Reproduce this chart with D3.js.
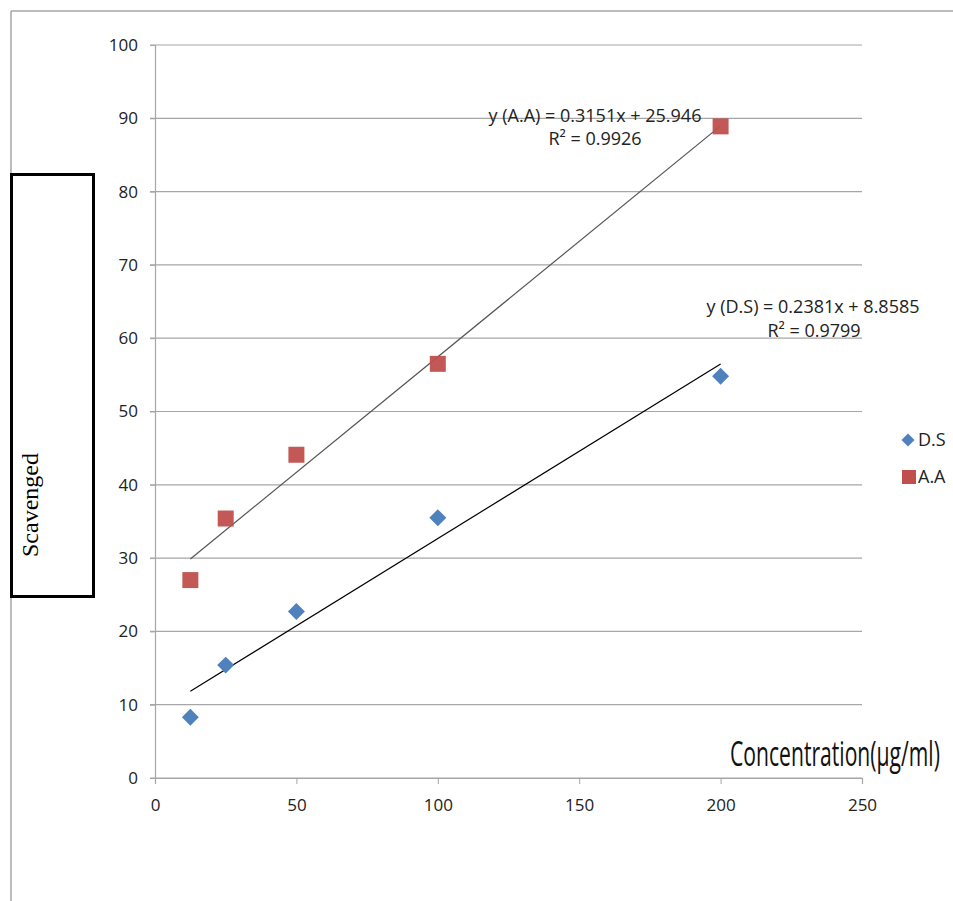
<!DOCTYPE html>
<html><head><meta charset="utf-8">
<script src="https://cdn.jsdelivr.net/npm/d3@7"></script>
<style>body{margin:0;background:#fff}svg{display:block}</style>
</head><body>
<script>
const concentrations = [12.5, 25, 50, 100, 200];
const dsValues = [8.3, 15.4, 22.7, 35.5, 54.8];
const aaValues = [27.0, 35.4, 44.1, 56.5, 88.9];
const seriesNames = ["D.S", "A.A"];
const xTicks = [0, 50, 100, 150, 200, 250];
const yTicks = [0, 10, 20, 30, 40, 50, 60, 70, 80, 90, 100];
const dsFit = {slope: 0.2381, intercept: 8.8585, r2: "0.9799", label: "y (D.S) = 0.2381x + 8.8585"};
const aaFit = {slope: 0.3151, intercept: 25.946, r2: "0.9926", label: "y (A.A) = 0.3151x + 25.946"};

const W = 953, H = 901;
const svg = d3.select("body").append("svg").attr("width", W).attr("height", H);
const font = "'Open Sans', 'Noto Sans', sans-serif";

// outer frame
svg.append("line").attr("x1", 11).attr("x2", W).attr("y1", 11).attr("y2", 11).attr("stroke", "#a6a6a6").attr("stroke-width", 1.5);
svg.append("line").attr("x1", 11).attr("x2", 11).attr("y1", 11).attr("y2", H).attr("stroke", "#a6a6a6").attr("stroke-width", 1.5);

const x = d3.scaleLinear().domain([0, 250]).range([155, 862]);
const y = d3.scaleLinear().domain([0, 100]).range([778, 45]);

// gridlines
svg.append("g").selectAll("line").data(yTicks).join("line")
  .attr("x1", 150).attr("x2", 862).attr("y1", d => y(d)).attr("y2", d => y(d))
  .attr("stroke", "#a6a6a6").attr("stroke-width", 1.2);

// y axis
const yAxis = svg.append("g").attr("transform", `translate(${x(0)},0)`)
  .call(d3.axisLeft(y).tickValues(yTicks).tickSize(5).tickPadding(12));
yAxis.select(".domain").attr("stroke", "#a6a6a6").attr("stroke-width", 1.2);
yAxis.selectAll(".tick line").attr("stroke", "#a6a6a6");
yAxis.selectAll("text").attr("font-family", font).attr("font-size", 17).attr("fill", "#222");

// x axis
const xAxis = svg.append("g").attr("transform", `translate(0,${y(0)})`)
  .call(d3.axisBottom(x).tickValues(xTicks).tickSize(6).tickPadding(15));
xAxis.select(".domain").attr("stroke", "#a6a6a6").attr("stroke-width", 1.2);
xAxis.selectAll(".tick line").attr("stroke", "#a6a6a6");
xAxis.selectAll("text").attr("font-family", font).attr("font-size", 17).attr("fill", "#222");

// trendlines
const xmin = d3.min(concentrations), xmax = d3.max(concentrations);
[[aaFit, "#555"], [dsFit, "#000"]].forEach(([f, c]) => {
  svg.append("line")
    .attr("x1", x(xmin)).attr("y1", y(f.slope * xmin + f.intercept))
    .attr("x2", x(xmax)).attr("y2", y(f.slope * xmax + f.intercept))
    .attr("stroke", c).attr("stroke-width", 1.2);
});

const blue = "#4f81bd", red = "#c0504d";
const diamond = d3.symbol().type(d3.symbolSquare).size(144);

// A.A squares
svg.append("g").selectAll("rect").data(concentrations).join("rect")
  .attr("x", (d) => x(d) - 8).attr("y", (d, i) => y(aaValues[i]) - 8)
  .attr("width", 16).attr("height", 16).attr("fill", red).attr("opacity", 0.95);

// D.S diamonds
svg.append("g").selectAll("path").data(concentrations).join("path")
  .attr("d", diamond)
  .attr("transform", (d, i) => `translate(${x(d)},${y(dsValues[i])}) rotate(45)`)
  .attr("fill", blue);

// equations
const eqStyle = s => s.attr("font-family", font).attr("font-size", 18).attr("fill", "#222");
svg.append("text").attr("x", 595).attr("y", 122).attr("text-anchor", "middle").text(aaFit.label).call(eqStyle);
svg.append("text").attr("x", 595).attr("y", 145).attr("text-anchor", "middle").text("R² = " + aaFit.r2).call(eqStyle);
svg.append("text").attr("x", 813).attr("y", 313).attr("text-anchor", "middle").text(dsFit.label).call(eqStyle);
svg.append("text").attr("x", 814).attr("y", 337).attr("text-anchor", "middle").text("R² = " + dsFit.r2).call(eqStyle);

// legend
const lg = svg.append("g");
lg.append("path").attr("d", d3.symbol().type(d3.symbolSquare).size(84)).attr("transform", "translate(908,440) rotate(45)").attr("fill", blue);
lg.append("text").attr("x", 918).attr("y", 446).text(seriesNames[0]).call(eqStyle);
lg.append("rect").attr("x", 902).attr("y", 470).attr("width", 14).attr("height", 14).attr("fill", red);
lg.append("text").attr("x", 918).attr("y", 483).text(seriesNames[1]).call(eqStyle);

// y-label box
svg.append("rect").attr("x", 11.5).attr("y", 174.5).attr("width", 82).attr("height", 422)
  .attr("fill", "#fff").attr("stroke", "#000").attr("stroke-width", 3);
svg.append("text").attr("transform", "translate(38,505) rotate(-90)").attr("text-anchor", "middle")
  .attr("font-family", "'Liberation Serif', 'DejaVu Serif', serif").attr("font-size", 24).attr("fill", "#000")
  .text("Scavenged");

// x-label: tall condensed text fitted into its span
const xl = svg.append("text").attr("font-family", "'Liberation Sans Narrow', 'Open Sans', sans-serif")
  .attr("font-size", 34).attr("fill", "#111").text("Concentration(μg/ml)");
const natural = xl.node().getComputedTextLength();
const sx = 210 / natural;
xl.attr("transform", `translate(730,766) scale(${sx},1)`);
</script>
</body></html>
